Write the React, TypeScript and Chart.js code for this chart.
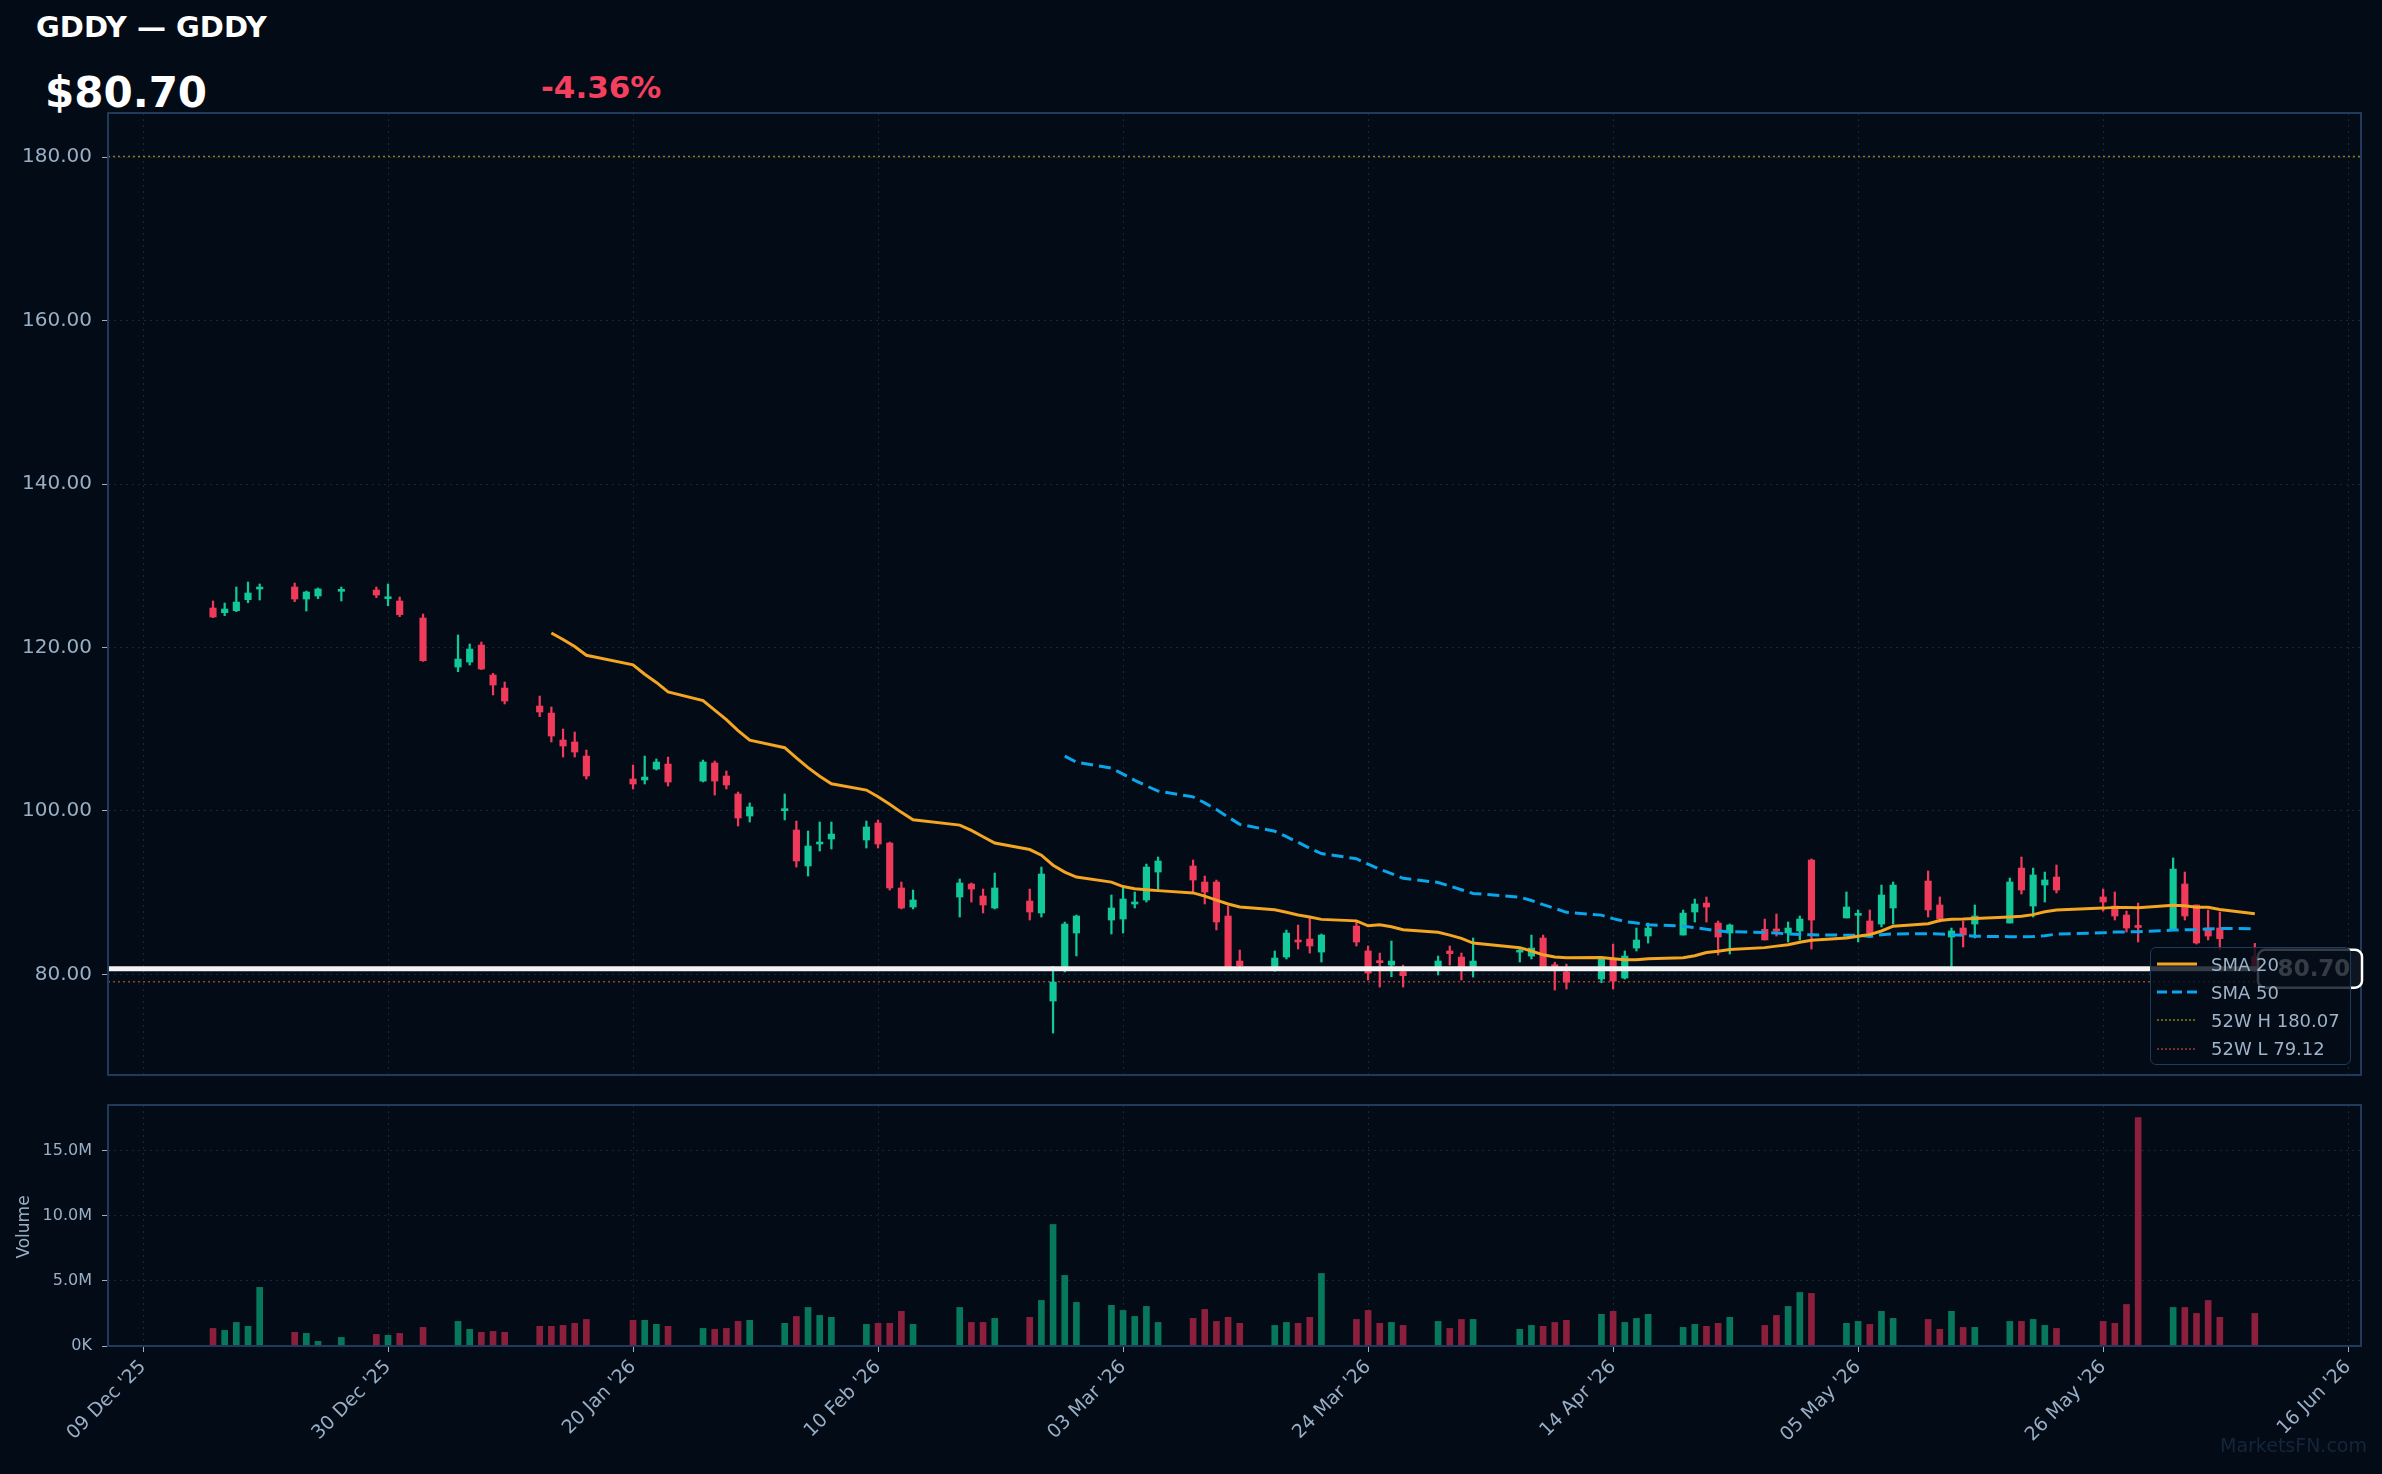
import React, { useEffect, useRef } from 'react';
import Chart from 'chart.js/auto';

const title = 'GDDY — GDDY';
const priceText = '$80.70';
const changeText = '-4.36%';

const dates = [
  '2025-12-15','2025-12-16','2025-12-17','2025-12-18','2025-12-19',
  '2025-12-22','2025-12-23','2025-12-24','2025-12-26',
  '2025-12-29','2025-12-30','2025-12-31','2026-01-02',
  '2026-01-05','2026-01-06','2026-01-07','2026-01-08','2026-01-09',
  '2026-01-12','2026-01-13','2026-01-14','2026-01-15','2026-01-16',
  '2026-01-20','2026-01-21','2026-01-22','2026-01-23',
  '2026-01-26','2026-01-27','2026-01-28','2026-01-29','2026-01-30',
  '2026-02-02','2026-02-03','2026-02-04','2026-02-05','2026-02-06',
  '2026-02-09','2026-02-10','2026-02-11','2026-02-12','2026-02-13',
  '2026-02-17','2026-02-18','2026-02-19','2026-02-20',
  '2026-02-23','2026-02-24','2026-02-25','2026-02-26','2026-02-27',
  '2026-03-02','2026-03-03','2026-03-04','2026-03-05','2026-03-06',
  '2026-03-09','2026-03-10','2026-03-11','2026-03-12','2026-03-13',
  '2026-03-16','2026-03-17','2026-03-18','2026-03-19','2026-03-20',
  '2026-03-23','2026-03-24','2026-03-25','2026-03-26','2026-03-27',
  '2026-03-30','2026-03-31','2026-04-01','2026-04-02',
  '2026-04-06','2026-04-07','2026-04-08','2026-04-09','2026-04-10',
  '2026-04-13','2026-04-14','2026-04-15','2026-04-16','2026-04-17',
  '2026-04-20','2026-04-21','2026-04-22','2026-04-23','2026-04-24',
  '2026-04-27','2026-04-28','2026-04-29','2026-04-30','2026-05-01',
  '2026-05-04','2026-05-05','2026-05-06','2026-05-07','2026-05-08',
  '2026-05-11','2026-05-12','2026-05-13','2026-05-14','2026-05-15',
  '2026-05-18','2026-05-19','2026-05-20','2026-05-21','2026-05-22',
  '2026-05-26','2026-05-27','2026-05-28','2026-05-29',
  '2026-06-01','2026-06-02','2026-06-03','2026-06-04','2026-06-05',
  '2026-06-08',
];

const opens = [
  124.83,124.26,124.50,125.85,127.15, 127.40,125.93,126.30,126.87, 127.03,125.97,125.69,123.61,
  117.61,118.22,120.30,116.63,115.04, 112.84,111.98,108.68,108.44,106.72, 103.91,103.79,105.13,105.74,
  103.66,105.87,104.28,102.08,99.38, 100.04,97.67,93.27,95.96,96.57, 96.45,98.53,96.08,90.58,88.25,
  89.47,91.06,89.60,88.13, 88.98,87.52,76.75,80.60,85.07, 86.66,86.78,88.62,89.11,92.53,
  93.27,91.31,91.31,87.15,81.64, 80.60,82.13,84.05,84.33,82.74, 85.92,82.87,81.52,81.15,80.34,
  80.54,82.87,82.13,80.54, 82.73,82.25,84.46,81.15,80.30, 79.44,81.76,79.56,83.23,84.70,
  84.82,87.64,88.74,86.29,85.07, 85.52,85.44,85.07,85.32,94.00, 86.91,87.23,86.54,86.17,88.13,
  91.43,88.50,84.58,85.68,86.17, 86.29,93.02,88.37,90.94,91.92, 89.48,88.37,87.27,85.90,
  85.44,91.07,88.50,85.68,85.68, 82.20,
];
const highs = [
  125.69,125.44,127.40,128.01,127.77, 127.89,126.91,127.28,127.40, 127.40,127.77,126.18,124.10,
  121.53,120.43,120.67,116.84,115.78, 114.06,112.72,110.03,109.66,107.46, 105.62,106.72,106.36,106.60,
  106.23,106.11,104.89,102.32,100.98, 102.08,98.77,97.55,98.65,98.65, 98.77,98.90,96.20,91.31,90.33,
  91.68,91.19,90.45,92.41, 90.45,93.14,81.00,86.41,87.27, 89.72,90.58,90.09,93.51,94.37,
  94.00,92.04,91.55,88.37,82.99, 82.87,85.43,86.05,86.90,84.95, 86.41,83.48,82.62,84.09,81.15,
  82.25,83.48,82.62,84.46, 83.23,84.82,84.82,81.50,81.27, 82.17,83.72,82.87,85.68,86.29,
  87.88,89.23,89.47,86.54,86.17, 86.78,87.40,86.42,87.15,94.13, 90.09,87.89,87.89,90.94,91.31,
  92.66,89.48,85.68,86.54,88.50, 91.80,94.37,93.02,92.53,93.39, 90.45,90.09,87.76,88.74,
  94.25,92.53,88.50,87.89,87.64, 83.80,
];
const lows = [
  123.65,123.89,124.38,125.48,125.81, 125.61,124.46,125.97,125.69, 126.10,125.12,123.77,118.30,
  117.04,117.86,117.30,114.19,113.09, 111.54,108.44,106.60,106.60,103.91, 102.69,103.30,105.01,103.05,
  103.55,101.95,102.69,98.16,98.65, 98.90,93.14,92.04,95.10,95.35, 95.47,95.47,90.33,88.01,88.01,
  87.03,88.86,87.52,88.01, 86.66,87.03,72.83,80.30,82.26, 84.95,85.07,88.13,88.86,90.33,
  90.09,88.62,85.44,80.60,80.70, 80.40,81.89,83.11,82.62,81.52, 83.48,79.32,78.46,79.72,78.46,
  79.93,81.15,79.32,79.68, 81.52,81.89,80.60,78.09,78.22, 78.99,78.22,79.44,82.87,83.84,
  84.82,86.41,86.41,82.38,82.50, 84.22,84.70,83.97,84.22,83.11, 86.91,83.97,84.83,85.81,86.17,
  87.03,86.42,80.91,83.36,84.46, 86.29,89.84,87.03,88.86,89.97, 87.76,86.66,85.19,83.97,
  85.44,86.66,83.72,84.22,82.99, 80.30,
];
const closes = [
  123.73,124.71,125.56,126.67,127.20, 125.93,126.79,127.16,126.99, 126.42,126.05,124.02,118.39,
  118.59,119.81,117.37,115.41,113.45, 112.11,109.17,107.95,107.21,104.28, 103.30,104.15,105.99,103.54,
  105.99,103.66,103.18,99.14,100.49, 100.13,93.88,95.71,96.08,97.18, 98.04,95.96,90.58,88.13,89.11,
  91.19,90.45,88.50,90.58, 87.64,92.29,79.07,86.17,87.15, 88.13,89.23,88.70,93.14,93.88,
  91.55,90.09,86.42,80.90,81.07, 82.01,85.07,83.97,83.48,84.82, 83.97,80.17,81.44,81.64,79.85,
  81.64,82.54,80.54,81.64, 82.80,83.23,80.80,80.95,79.07, 81.89,79.19,82.25,84.21,85.68,
  87.51,88.62,88.25,84.58,86.05, 84.22,85.32,85.68,86.78,86.66, 88.25,87.36,85.07,89.72,90.94,
  87.89,86.78,85.32,84.83,87.15, 91.31,90.33,92.17,91.56,90.33, 88.86,87.15,85.68,85.75,
  92.90,87.15,83.85,84.70,84.38, 80.70,
];
// volume in millions of shares
const volumes = [
  1.35,1.20,1.81,1.51,4.50, 1.05,0.97,0.36,0.66, 0.89,0.82,0.97,1.43,
  1.89,1.28,1.05,1.12,1.05, 1.51,1.51,1.58,1.74,2.04, 1.97,1.97,1.66,1.51,
  1.35,1.28,1.35,1.89,1.97, 1.74,2.27,2.96,2.35,2.20, 1.66,1.74,1.74,2.66,1.66,
  2.96,1.81,1.81,2.12, 2.20,3.50,9.33,5.42,3.35, 3.12,2.73,2.27,3.04,1.81,
  2.12,2.81,1.89,2.20,1.74, 1.58,1.81,1.74,2.20,5.57, 2.04,2.73,1.74,1.81,1.58,
  1.89,1.35,2.04,2.04, 1.28,1.58,1.51,1.81,1.97, 2.43,2.66,1.81,2.12,2.43,
  1.43,1.66,1.51,1.74,2.20, 1.58,2.35,3.04,4.11,4.04, 1.74,1.89,1.66,2.66,2.12,
  2.04,1.28,2.66,1.43,1.43, 1.89,1.89,2.04,1.58,1.35, 1.89,1.74,3.19,17.53,
  2.96,2.96,2.50,3.50,2.20, 2.50,
];

const xTickDates = ['2025-12-09','2025-12-30','2026-01-20','2026-02-10','2026-03-03','2026-03-24','2026-04-14','2026-05-05','2026-05-26','2026-06-16'];
const xTickLabels = ["09 Dec '25","30 Dec '25","20 Jan '26","10 Feb '26","03 Mar '26","24 Mar '26","14 Apr '26","05 May '26","26 May '26","16 Jun '26"];
const priceTicks = [80, 100, 120, 140, 160, 180];
const volumeTicks = [0, 5, 10, 15];
const high52 = 180.07;
const low52 = 79.12;
const lastPrice = 80.70;
const legendLabels = ['SMA 20', 'SMA 50', '52W H 180.07', '52W L 79.12'];

const X_MIN = -3;
const X_MAX = 190.1;
const Y_MIN = 67.7;
const Y_MAX = 185.39;
const V_MAX = 18.5;

const BG = '#020B16';
const GREEN = '#12C89B';
const RED = '#F03A5A';
const VGREEN = '#08785C';
const VRED = '#8C1F3C';
const ORANGE = '#F4A521';
const BLUE = '#0BA5E9';
const HCOL = '#8E7F14';
const LCOL = '#9C3F2E';
const FRAME = '#1F3A5A';
const GRID = '#15273A';
const TICK = '#9AAEC5';
const FONT = "'DejaVu Sans', 'Noto Sans', sans-serif";

const baseDay = Date.UTC(2025, 11, 9);
const toDay = (s: string) => {
  const [y, m, d] = s.split('-').map(Number);
  return (Date.UTC(y, m - 1, d) - baseDay) / 86400000;
};
const days = dates.map(toDay);
const xTickDays = xTickDates.map(toDay);
const up = closes.map((c, i) => c >= opens[i]);

const sma = (n: number) => {
  const out: { x: number; y: number }[] = [];
  for (let i = n - 1; i < closes.length; i++) {
    let s = 0;
    for (let j = i - n + 1; j <= i; j++) s += closes[j];
    out.push({ x: days[i], y: s / n });
  }
  return out;
};

const framePlugin = {
  id: 'frame',
  afterDraw(chart: any) {
    const { ctx, chartArea: a } = chart;
    ctx.save();
    ctx.strokeStyle = FRAME;
    ctx.lineWidth = 2;
    ctx.strokeRect(a.left, a.top, a.right - a.left, a.bottom - a.top);
    ctx.restore();
  },
};

const priceLabelPlugin = {
  id: 'priceLabel',
  afterDraw(chart: any) {
    const { ctx, chartArea: a } = chart;
    const y = chart.scales.y.getPixelForValue(lastPrice);
    const w = 104, h = 38;
    const x = a.right - w + 1;
    ctx.save();
    ctx.beginPath();
    (ctx as any).roundRect(x, y - h / 2, w, h, 7);
    ctx.fillStyle = '#0C1520';
    ctx.fill();
    ctx.lineWidth = 2.5;
    ctx.strokeStyle = '#FFFFFF';
    ctx.stroke();
    ctx.fillStyle = '#FFFFFF';
    ctx.font = `bold 23px ${FONT}`;
    ctx.textAlign = 'center';
    ctx.textBaseline = 'middle';
    ctx.fillText(lastPrice.toFixed(2), x + w / 2 + 4, y + 1);
    ctx.restore();
  },
};

const fitY = (s: any) => {
  s.width = 108;
  s.paddingTop = 0;
  s.paddingBottom = 0;
};

const xScaleBase = (showLabels: boolean) => ({
  type: 'linear' as const,
  min: X_MIN,
  max: X_MAX,
  offset: false,
  afterBuildTicks: (scale: any) => {
    scale.ticks = xTickDays.map((v) => ({ value: v }));
  },
  grid: {
    offset: false,
    color: GRID,
    lineWidth: 1,
    drawTicks: showLabels,
    tickLength: 6,
    tickColor: TICK,
    tickBorderDash: [],
  },
  border: { display: false, dash: [2, 4] },
  ticks: {
    display: showLabels,
    autoSkip: false,
    maxRotation: 45,
    minRotation: 45,
    padding: 4,
    color: TICK,
    font: { family: FONT, size: 19 },
    callback: (v: any) => {
      const i = xTickDays.indexOf(Number(v));
      return i >= 0 ? xTickLabels[i] : '';
    },
  },
});

export default function App() {
  const priceRef = useRef<HTMLCanvasElement>(null);
  const volRef = useRef<HTMLCanvasElement>(null);

  useEffect(() => {
    document.body.style.margin = '0';
    document.body.style.background = BG;

    const wickColors = up.map((u) => (u ? GREEN : RED));
    const priceChart = new Chart(priceRef.current as HTMLCanvasElement, {
      type: 'bar',
      data: {
        datasets: [
          {
            type: 'line',
            label: 'Last',
            data: [{ x: X_MIN, y: lastPrice }, { x: X_MAX, y: lastPrice }],
            borderColor: '#F2F2F2',
            borderWidth: 5,
            pointRadius: 0,
          } as any,
          {
            type: 'line',
            label: legendLabels[0],
            data: sma(20),
            borderColor: ORANGE,
            borderWidth: 3,
            pointRadius: 0,
            tension: 0,
          } as any,
          {
            type: 'line',
            label: legendLabels[1],
            data: sma(50),
            borderColor: BLUE,
            borderWidth: 3,
            borderDash: [12, 6],
            pointRadius: 0,
            tension: 0,
          } as any,
          {
            label: 'body',
            data: days.map((d, i) => ({ x: d, y: [Math.min(opens[i], closes[i]), Math.max(opens[i], closes[i])] })),
            backgroundColor: wickColors,
            barThickness: 6.5,
            minBarLength: 2,
            grouped: false,
            borderWidth: 0,
          } as any,
          {
            label: 'wick',
            data: days.map((d, i) => ({ x: d, y: [lows[i], highs[i]] })),
            backgroundColor: wickColors,
            barThickness: 1.6,
            grouped: false,
            borderWidth: 0,
          } as any,
          {
            type: 'line',
            label: legendLabels[2],
            data: [{ x: X_MIN, y: high52 }, { x: X_MAX, y: high52 }],
            borderColor: HCOL,
            borderWidth: 1.5,
            borderDash: [2, 3],
            pointRadius: 0,
          } as any,
          {
            type: 'line',
            label: legendLabels[3],
            data: [{ x: X_MIN, y: low52 }, { x: X_MAX, y: low52 }],
            borderColor: LCOL,
            borderWidth: 1.5,
            borderDash: [2, 3],
            pointRadius: 0,
          } as any,
        ],
      },
      options: {
        animation: false,
        responsive: false,
        maintainAspectRatio: false,
        layout: { padding: { top: 113, right: 21, bottom: 15, left: 0 } },
        plugins: { legend: { display: false }, tooltip: { enabled: false } },
        scales: {
          x: {
            ...xScaleBase(false),
            afterFit: (s: any) => { s.height = 0; },
          } as any,
          y: {
            type: 'linear',
            min: Y_MIN,
            max: Y_MAX,
            afterFit: fitY,
            afterBuildTicks: (scale: any) => {
              scale.ticks = priceTicks.map((v) => ({ value: v }));
            },
            grid: { color: GRID, lineWidth: 1, drawTicks: true, tickLength: 6, tickColor: TICK, tickBorderDash: [] },
            border: { display: false, dash: [2, 4] },
            ticks: {
              color: TICK,
              padding: 10,
              font: { family: FONT, size: 20 },
              callback: (v: any) => Number(v).toFixed(2),
            },
          } as any,
        },
      },
      plugins: [framePlugin, priceLabelPlugin],
    });

    const volChart = new Chart(volRef.current as HTMLCanvasElement, {
      type: 'bar',
      data: {
        datasets: [
          {
            label: 'Volume',
            data: days.map((d, i) => ({ x: d, y: volumes[i] })),
            backgroundColor: up.map((u) => (u ? VGREEN : VRED)),
            barThickness: 6,
            grouped: false,
            borderWidth: 0,
          } as any,
        ],
      },
      options: {
        animation: false,
        responsive: false,
        maintainAspectRatio: false,
        layout: { padding: { top: 15, right: 21, bottom: 0, left: 0 } },
        plugins: { legend: { display: false }, tooltip: { enabled: false } },
        scales: {
          x: {
            ...xScaleBase(true),
            afterFit: (s: any) => { s.height = 128; },
          } as any,
          y: {
            type: 'linear',
            min: 0,
            max: V_MAX,
            afterFit: fitY,
            afterBuildTicks: (scale: any) => {
              scale.ticks = volumeTicks.map((v) => ({ value: v }));
            },
            grid: { color: GRID, lineWidth: 1, drawTicks: true, tickLength: 6, tickColor: TICK, tickBorderDash: [] },
            border: { display: false, dash: [2, 4] },
            ticks: {
              color: TICK,
              padding: 10,
              font: { family: FONT, size: 16 },
              callback: (v: any) => (Number(v) === 0 ? '0K' : Number(v).toFixed(1) + 'M'),
            },
          } as any,
        },
      },
      plugins: [framePlugin],
    });

    return () => {
      priceChart.destroy();
      volChart.destroy();
    };
  }, []);

  const legendRow = (i: number, sample: React.ReactNode) => (
    <div key={i} style={{ position: 'absolute', left: 0, top: 2 + i * 28.2, height: 28, width: 200, display: 'flex', alignItems: 'center' }}>
      <svg width={54} height={28} style={{ flex: 'none' }}>{sample}</svg>
      <span style={{ marginLeft: 6, fontSize: 18, color: '#9FB2C8', fontFamily: FONT, whiteSpace: 'nowrap' }}>{legendLabels[i]}</span>
    </div>
  );

  return (
    <div style={{ position: 'absolute', left: 0, top: 0, width: 2382, height: 1474, background: BG, overflow: 'hidden', fontFamily: FONT }}>
      <div style={{ position: 'absolute', left: 36, top: 13, fontSize: 29, lineHeight: '29px', fontWeight: 'bold', color: '#FFFFFF', whiteSpace: 'nowrap' }}>{title}</div>
      <div style={{ position: 'absolute', left: 45, top: 72, fontSize: 42, lineHeight: '42px', fontWeight: 'bold', color: '#FFFFFF', whiteSpace: 'nowrap' }}>{priceText}</div>
      <div style={{ position: 'absolute', left: 541, top: 72, fontSize: 31, lineHeight: '31px', fontWeight: 'bold', color: '#F43F5E', whiteSpace: 'nowrap' }}>{changeText}</div>
      <canvas ref={priceRef} width={2382} height={1090} style={{ position: 'absolute', left: 0, top: 0, width: 2382, height: 1090 }} />
      <canvas ref={volRef} width={2382} height={384} style={{ position: 'absolute', left: 0, top: 1090, width: 2382, height: 384 }} />
      <div style={{ position: 'absolute', left: 23 - 40, top: 1227 - 10, width: 80, height: 20, lineHeight: '20px', textAlign: 'center', transform: 'rotate(-90deg)', fontSize: 17, color: TICK, whiteSpace: 'nowrap' }}>Volume</div>
      <div style={{ position: 'absolute', left: 2150, top: 947, width: 201, height: 118, boxSizing: 'border-box', background: 'rgba(2,11,22,0.8)', border: `1.5px solid ${FRAME}`, borderRadius: 6 }}>
        {legendRow(0, <line x1={6} y1={14} x2={46} y2={14} stroke={ORANGE} strokeWidth={3} />)}
        {legendRow(1, <line x1={6} y1={14} x2={46} y2={14} stroke={BLUE} strokeWidth={3} strokeDasharray="10 5" />)}
        {legendRow(2, <line x1={6} y1={14} x2={46} y2={14} stroke={HCOL} strokeWidth={1.5} strokeDasharray="2 2" />)}
        {legendRow(3, <line x1={6} y1={14} x2={46} y2={14} stroke={LCOL} strokeWidth={1.5} strokeDasharray="2 2" />)}
      </div>
      <div style={{ position: 'absolute', right: 2382 - 2367, top: 1434, fontSize: 19, lineHeight: '22px', color: '#15263A', whiteSpace: 'nowrap' }}>MarketsFN.com</div>
    </div>
  );
}
